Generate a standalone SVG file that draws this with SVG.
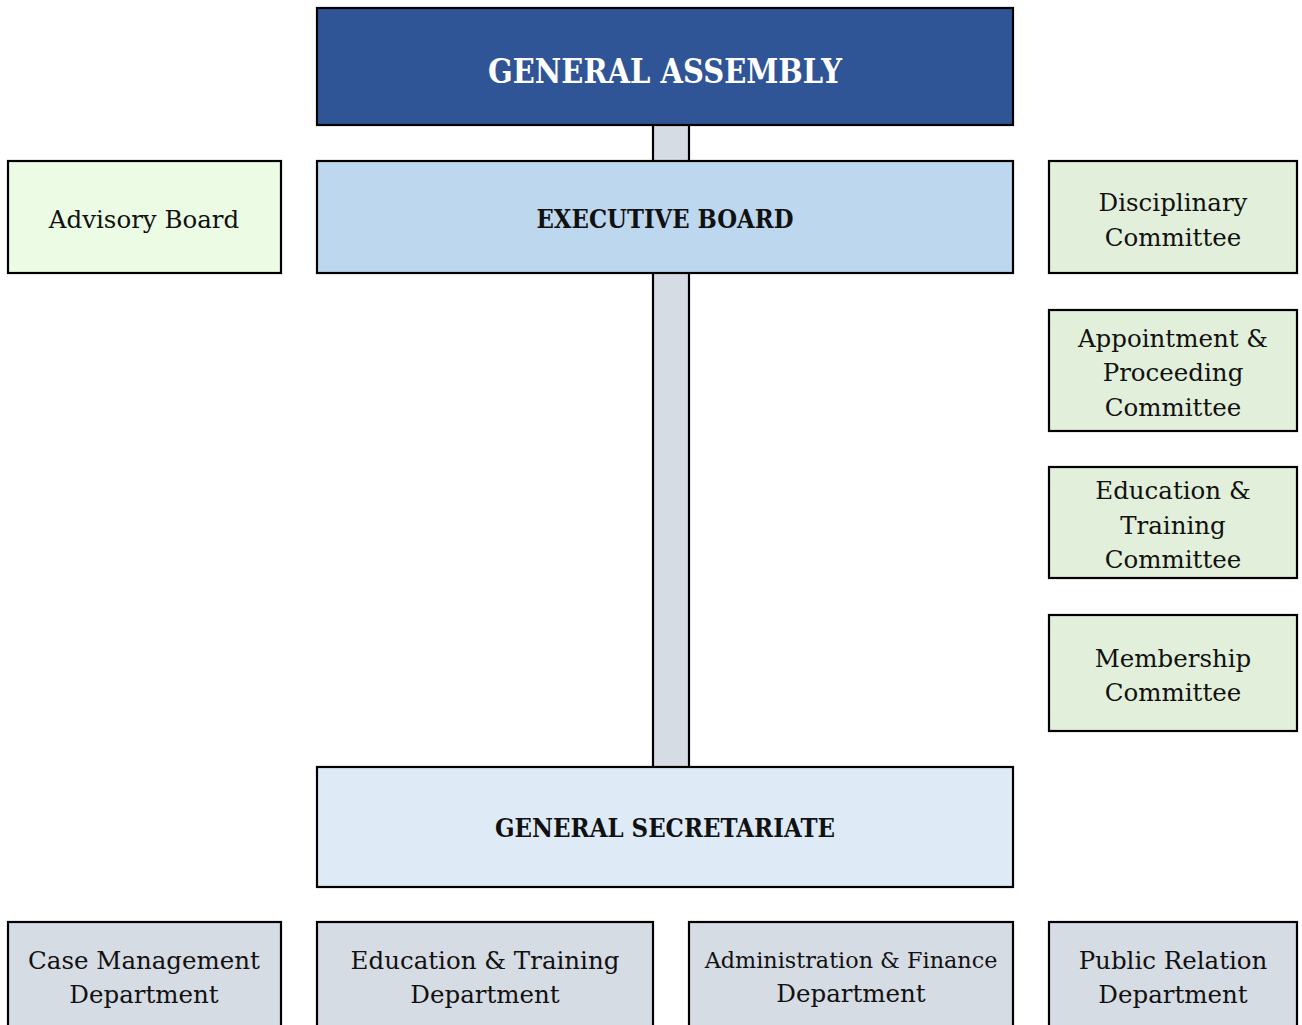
<svg xmlns="http://www.w3.org/2000/svg" width="1302" height="1025" viewBox="0 0 1302 1025">
<style>
rect.b{stroke:#000;stroke-width:2.2}
text{font-family:"DejaVu Serif","Liberation Serif",serif;text-anchor:middle;fill:#111}
.r{font-size:24.5px}
.h{font-size:26px;font-weight:bold}
.ga{font-size:34px;font-weight:bold;fill:#fff}
.sm{font-size:22.3px}
</style>
<rect width="1302" height="1025" fill="#fff"/>
<g id="connectors">
<rect class="b" x="653" y="124" width="36" height="644" fill="#D6DCE4"/>
</g>
<g id="general-assembly">
<rect class="b" x="317" y="8" width="696" height="117" fill="#2F5597"/>
<text class="ga" x="665" y="83" textLength="354" lengthAdjust="spacingAndGlyphs">GENERAL ASSEMBLY</text>
</g>
<g id="executive-board">
<rect class="b" x="317" y="161" width="696" height="112" fill="#BDD7EE"/>
<text class="h" x="665" y="228" textLength="257" lengthAdjust="spacingAndGlyphs">EXECUTIVE BOARD</text>
</g>
<g id="advisory-board">
<rect class="b" x="8" y="161" width="273" height="112" fill="#EBFBE4"/>
<text class="r" x="144" y="228">Advisory Board</text>
</g>
<g id="disciplinary-committee">
<rect class="b" x="1049" y="161" width="248" height="112" fill="#E2EFDA"/>
<text class="r" x="1173" y="211">Disciplinary</text>
<text class="r" x="1173" y="246">Committee</text>
</g>
<g id="appointment-committee">
<rect class="b" x="1049" y="310" width="248" height="121" fill="#E2EFDA"/>
<text class="r" x="1173" y="347">Appointment &amp;</text>
<text class="r" x="1173" y="381">Proceeding</text>
<text class="r" x="1173" y="416">Committee</text>
</g>
<g id="education-committee">
<rect class="b" x="1049" y="467" width="248" height="111" fill="#E2EFDA"/>
<text class="r" x="1173" y="499">Education &amp;</text>
<text class="r" x="1173" y="534">Training</text>
<text class="r" x="1173" y="568">Committee</text>
</g>
<g id="membership-committee">
<rect class="b" x="1049" y="615" width="248" height="116" fill="#E2EFDA"/>
<text class="r" x="1173" y="667">Membership</text>
<text class="r" x="1173" y="701">Committee</text>
</g>
<g id="general-secretariate">
<rect class="b" x="317" y="767" width="696" height="120" fill="#DEEBF7"/>
<text class="h" x="665" y="837" textLength="340" lengthAdjust="spacingAndGlyphs">GENERAL SECRETARIATE</text>
</g>
<g id="case-management">
<rect class="b" x="8" y="922" width="273" height="110" fill="#D6DCE4"/>
<text class="r" x="144" y="969">Case Management</text>
<text class="r" x="144" y="1003">Department</text>
</g>
<g id="education-department">
<rect class="b" x="317" y="922" width="336" height="110" fill="#D6DCE4"/>
<text class="r" x="485" y="969">Education &amp; Training</text>
<text class="r" x="485" y="1003">Department</text>
</g>
<g id="administration-finance">
<rect class="b" x="689" y="922" width="324" height="110" fill="#D6DCE4"/>
<text class="sm" x="851" y="968">Administration &amp; Finance</text>
<text class="r" x="851" y="1002">Department</text>
</g>
<g id="public-relation">
<rect class="b" x="1049" y="922" width="248" height="110" fill="#D6DCE4"/>
<text class="r" x="1173" y="969">Public Relation</text>
<text class="r" x="1173" y="1003">Department</text>
</g>
</svg>
